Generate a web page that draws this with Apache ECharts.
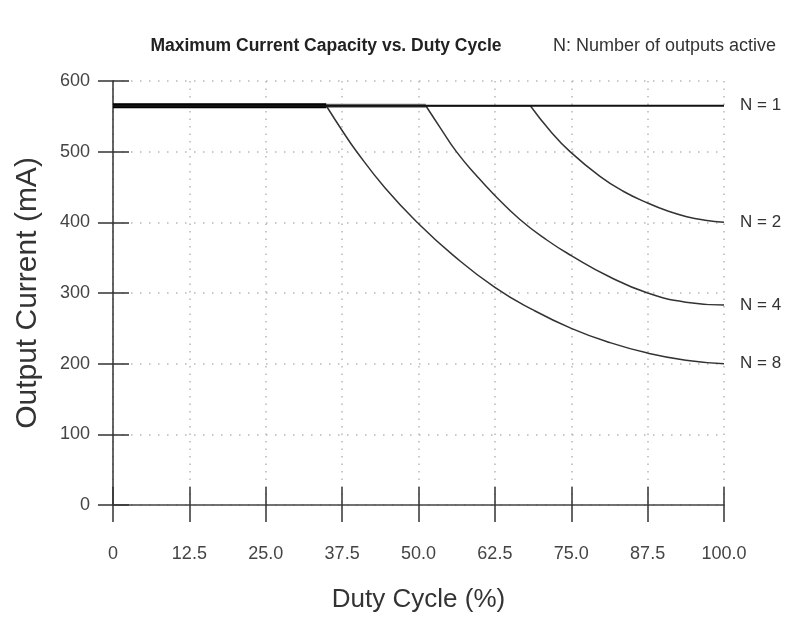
<!DOCTYPE html>
<html>
<head>
<meta charset="utf-8">
<script src="https://cdn.jsdelivr.net/npm/echarts@6/dist/echarts.min.js"></script>
<style>
html,body{margin:0;padding:0;background:#fff;}
#chart{width:788px;height:620px;}
</style>
</head>
<body>
<div id="chart"></div>
<script>
// ---- data ----
const xTickLabels = ['0', '12.5', '25.0', '37.5', '50.0', '62.5', '75.0', '87.5', '100.0'];
const yTickLabels = ['0', '100', '200', '300', '400', '500', '600'];
const seriesNames = ['N = 1', 'N = 2', 'N = 4', 'N = 8'];
const n1 = [[0, 565], [100, 565]];
const n2 = [[0, 565], [68.3, 565], [71.5, 530], [74.8, 500], [79.7, 465], [83.5, 444], [87.6, 427], [90.8, 416], [93.9, 408], [96.9, 403], [100, 400]];
const n4 = [[0, 565], [51.2, 565], [53.7, 532], [56.2, 500], [59.4, 467], [62.5, 438], [66.6, 404], [71, 375], [75, 353], [81.25, 323], [87.5, 300], [93.75, 287], [100, 283]];
const n8 = [[0, 565], [34.9, 565], [37.5, 530], [39.8, 501], [44.5, 449], [49.9, 399], [55.6, 354], [62.5, 308], [68.75, 276], [75, 250], [81.25, 230], [87.5, 215], [93.75, 205], [100, 200]];

const FONT = "'Liberation Sans', Arial, sans-serif";
const chart = echarts.init(document.getElementById('chart'));

function flat(data, width, color) {
  return {
    type: 'line', data: data.slice(0, 2), showSymbol: false, silent: true,
    lineStyle: { width: width, color: color }, animation: false
  };
}
function curve(name, data) {
  return {
    name: name, type: 'line', data: data.slice(1), showSymbol: false,
    smooth: 0.5, animation: false,
    lineStyle: { width: 1.5, color: '#333' },
    endLabel: { show: true, formatter: name, distance: 16, fontSize: 17, color: '#333', fontFamily: FONT }
  };
}

const xLabelFmt = v => xTickLabels[Math.round(v / 12.5)];
const yLabelFmt = v => yTickLabels[Math.round(v / 100)];

chart.setOption({
  backgroundColor: '#fff',
  animation: false,
  title: [
    { text: 'Maximum Current Capacity vs. Duty Cycle', left: 326, textAlign: 'center', top: 37, padding: 0,
      textStyle: { fontSize: 17.5, fontWeight: 'bold', color: '#222', fontFamily: FONT } },
    { text: 'N: Number of outputs active', left: 553, top: 37, padding: 0,
      textStyle: { fontSize: 18, fontWeight: 'normal', color: '#333', fontFamily: FONT } }
  ],
  grid: { left: 113, right: 64, top: 81, bottom: 115, containLabel: false },
  xAxis: [
    { type: 'value', min: 0, max: 100, interval: 12.5, position: 'bottom',
      name: 'Duty Cycle (%)', nameLocation: 'middle', nameGap: 82,
      nameTextStyle: { fontSize: 26, color: '#333', fontFamily: FONT },
      axisLine: { show: true, onZero: false, lineStyle: { color: '#444', width: 1.5 } },
      axisTick: { show: true, length: 17, lineStyle: { color: '#333', width: 1.5 } },
      axisLabel: { margin: 40, fontSize: 18, color: '#444', fontFamily: FONT, formatter: xLabelFmt },
      splitLine: { show: true, lineStyle: { color: '#b8b8b8', width: 1.5, type: [1.5, 6] } } },
    { type: 'value', min: 0, max: 100, interval: 12.5, position: 'bottom',
      axisLine: { show: false },
      axisTick: { show: true, inside: true, length: 18, lineStyle: { color: '#333', width: 1.5 } },
      axisLabel: { show: false }, splitLine: { show: false } }
  ],
  yAxis: [
    { type: 'value', min: 0, max: 600, interval: 100, position: 'left',
      name: 'Output Current (mA)', nameLocation: 'middle', nameGap: 70,
      nameTextStyle: { fontSize: 30, color: '#333', fontFamily: FONT },
      axisLine: { show: true, onZero: false, lineStyle: { color: '#333', width: 1.5 } },
      axisTick: { show: true, length: 15, lineStyle: { color: '#333', width: 1.5 } },
      axisLabel: { margin: 23, fontSize: 18, color: '#444', fontFamily: FONT, formatter: yLabelFmt },
      splitLine: { show: true, lineStyle: { color: '#b8b8b8', width: 1.5, type: [1.5, 7.5] } } },
    { type: 'value', min: 0, max: 600, interval: 100, position: 'left',
      axisLine: { show: false },
      axisTick: { show: true, inside: true, length: 16, lineStyle: { color: '#333', width: 1.5 } },
      axisLabel: { show: false }, splitLine: { show: false } }
  ],
  series: [
    flat(n4, 4, '#777'),
    flat(n8, 5, '#000'),
    flat(n2, 1.5, '#333'),
    curve(seriesNames[3], n8),
    curve(seriesNames[2], n4),
    curve(seriesNames[1], n2),
    {
      name: seriesNames[0], type: 'line', data: n1, showSymbol: false, animation: false,
      lineStyle: { width: 2, color: '#111' },
      endLabel: { show: true, formatter: seriesNames[0], distance: 16, fontSize: 17, color: '#333', fontFamily: FONT }
    }
  ]
});
</script>
</body>
</html>
